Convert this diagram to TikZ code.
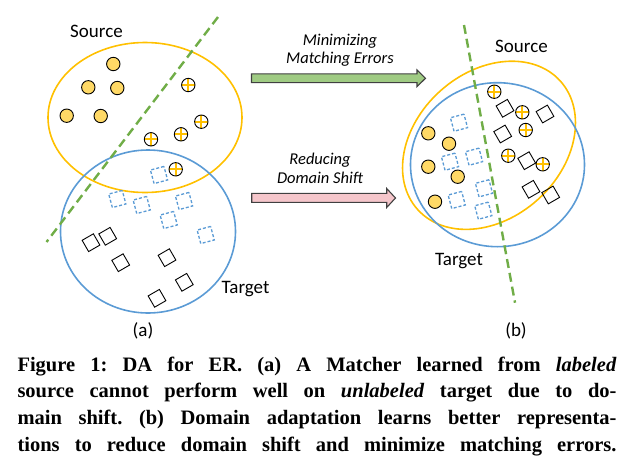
\documentclass[tikz,border=0pt]{standalone}
\usepackage{fontspec}
\setmainfont{Liberation Serif}
\newfontfamily\calibrifont{Carlito}
\definecolor{srcorange}{HTML}{FFC000}
\definecolor{tgtblue}{HTML}{5B9BD5}
\definecolor{lgreen}{HTML}{70AD47}
\definecolor{ylw}{HTML}{FFD966}
\definecolor{agreen}{HTML}{9FCB83}
\definecolor{apink}{HTML}{F5C6CB}
\definecolor{aout}{HTML}{404040}
\begin{document}
\begin{tikzpicture}[x=1pt,y=-1pt,
  ycirc/.style={circle,draw=black,line width=0.9pt,fill=ylw,minimum size=13.4pt,inner sep=0pt},
  pcirc/.style={circle,draw=black,line width=0.9pt,fill=white,minimum size=13.4pt,inner sep=0pt,
    path picture={\draw[srcorange,line width=1.8pt]
      (path picture bounding box.north) -- (path picture bounding box.south)
      (path picture bounding box.west) -- (path picture bounding box.east);}},
  bsq/.style={rectangle,draw=black,line width=0.9pt,minimum size=13pt,inner sep=0pt,rotate=30},
  dsq/.style={rectangle,draw=tgtblue,line width=1.3pt,dash pattern=on 3pt off 2pt,minimum size=14pt,inner sep=0pt,rotate=15},
  srcell/.style={draw=srcorange,line width=1.6pt},
  tgtell/.style={draw=tgtblue,line width=1.6pt},
  sepline/.style={draw=lgreen,line width=2.4pt,dash pattern=on 9pt off 5pt},
  lbl/.style={font=\calibrifont\fontsize{19}{22}\selectfont,inner sep=0pt},
  albl/.style={font=\calibrifont\itshape\fontsize{16.5}{19}\selectfont,inner sep=0pt,anchor=base},
  blockarrow/.style={draw=aout,line width=1.1pt,line join=miter}
]
\useasboundingbox (0,0) rectangle (630,472);

% ---------- (a) ----------
\draw[srcell] (145,117.5) ellipse [x radius=97pt, y radius=75pt];
\draw[tgtell] (148,231.5) ellipse [x radius=87.5pt, y radius=81.5pt];
\coordinate (la1) at (218,17);
\coordinate (la2) at (46.5,242);
\draw[sepline] (la1) -- (la2);

\foreach \x/\y [count=\i] in {113.3/64,88.3/87.3,117.3/88,66.7/115.7,100.7/116}
  \node[ycirc] (ya\i) at (\x,\y) {};
\foreach \x/\y [count=\i] in {188.3/85,201.3/121.7,181/134.3,151/139.3,175.7/169.3}
  \node[pcirc] (pa\i) at (\x,\y) {};
\foreach \x/\y [count=\i] in {159/175,117.3/199,141.7/205,184/201,168.7/220,205.7/235}
  \node[dsq] (da\i) at (\x,\y) {};
\foreach \x/\y [count=\i] in {91/242.7,107.7/236.3,120.7/262.7,167/257.7,184.3/282.3,157/298.3}
  \node[bsq] (ba\i) at (\x,\y) {};

\node[lbl,anchor=base west] (srca) at (70,37.3) {Source};
\node[lbl,anchor=base west] (tgta) at (221.5,293.3) {Target};
\node[lbl] (capa) at (143,331) {(a)};

% ---------- arrows ----------
\coordinate (g1) at (251.5,73.8);
\coordinate (g2) at (417,73.8);
\coordinate (g3) at (417,70);
\coordinate (g4) at (425.5,78.3);
\coordinate (g5) at (417,86.6);
\coordinate (g6) at (417,82.6);
\coordinate (g7) at (251.5,82.6);
\draw[blockarrow,fill=agreen] (g1) -- (g2) -- (g3) -- (g4) -- (g5) -- (g6) -- (g7) -- cycle;
\node[albl] (am1) at (340,45) {Minimizing};
\node[albl] (am2) at (340,63.5) {Matching Errors};

\coordinate (r1) at (251.7,193.3);
\coordinate (r2) at (386.7,193.3);
\coordinate (r3) at (386.7,188.5);
\coordinate (r4) at (395.5,198);
\coordinate (r5) at (386.7,207.5);
\coordinate (r6) at (386.7,202.3);
\coordinate (r7) at (251.7,202.3);
\draw[blockarrow,fill=apink] (r1) -- (r2) -- (r3) -- (r4) -- (r5) -- (r6) -- (r7) -- cycle;
\node[albl] (ar1) at (320,164) {Reducing};
\node[albl] (ar2) at (320,183) {Domain Shift};

% ---------- (b) ----------
\draw[srcell] (489,145.3) ellipse [x radius=96pt, y radius=73pt, rotate=42];
\draw[tgtell] (497.5,164.7) ellipse [x radius=87pt, y radius=82pt];
\coordinate (lb1) at (464,25);
\coordinate (lb2) at (515,302.7);
\draw[sepline] (lb1) -- (lb2);

\foreach \x/\y [count=\i] in {428.3/133.3,449/143.7,428.3/166.7,457.7/176.7,435/201.7}
  \node[ycirc] (yb\i) at (\x,\y) {};
\foreach \x/\y [count=\i] in {459/122.7,450/161.7,474/156.7,484/188.3,456.7/200,483.3/210.7}
  \node[dsq] (db\i) at (\x,\y) {};
\foreach \x/\y [count=\i] in {505/108.3,545/114,502.7/134,526.7/160.7,531/189.3,550.7/195}
  \node[bsq] (bb\i) at (\x,\y) {};
\foreach \x/\y [count=\i] in {494.3/91.7,522.3/112.3,525.7/130,508.3/155.7,542.7/164.3}
  \node[pcirc] (pb\i) at (\x,\y) {};

\node[lbl,anchor=base west] (srcb) at (495,52.3) {Source};
\node[lbl,anchor=base west] (tgtb) at (435,265) {Target};
\node[lbl] (capb) at (516,331) {(b)};

% ---------- caption ----------
\node[inner sep=0pt,anchor=base west] (caption) at (17.3,371) {\parbox[t]{599pt}{%
  \fontsize{20.5}{26.8}\selectfont\bfseries\frenchspacing\parfillskip=0pt\relax
  Figure 1: DA for ER. (a) A Matcher learned from \textit{labeled}\linebreak
  source cannot perform well on \textit{unlabeled} target due to do-\linebreak
  main shift. (b) Domain adaptation learns better representa-\linebreak
  tions to reduce domain shift and minimize matching errors.}};
\end{tikzpicture}
\end{document}
